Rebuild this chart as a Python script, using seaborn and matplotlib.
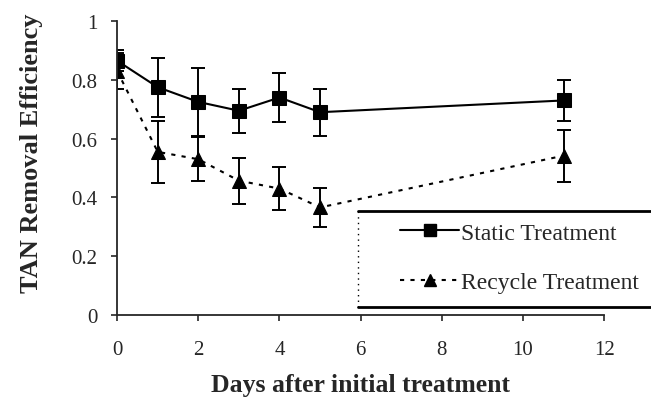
import matplotlib
matplotlib.use("Agg")
import matplotlib.pyplot as plt
import seaborn as sns
import pandas as pd
from matplotlib.lines import Line2D

# data
days = [0, 1, 2, 3, 4, 5, 11]
static_mean = [0.865, 0.775, 0.725, 0.695, 0.74, 0.69, 0.73]
static_err = [0.035, 0.10, 0.115, 0.075, 0.083, 0.08, 0.07]
recycle_mean = [0.83, 0.555, 0.53, 0.457, 0.43, 0.366, 0.542]
recycle_err = [0.06, 0.105, 0.075, 0.078, 0.073, 0.066, 0.088]

sns.set_style("ticks")
plt.rcParams["font.family"] = ["Liberation Serif", "DejaVu Serif"]

df = pd.DataFrame({
    "Day": days * 2,
    "Efficiency": static_mean + recycle_mean,
    "Treatment": ["Static Treatment"] * len(days) + ["Recycle Treatment"] * len(days),
})

fig = plt.figure(figsize=(6.51, 4.02), dpi=100)
ax = fig.add_axes([0.18, 0.214, 0.748, 0.731])

sns.lineplot(data=df, x="Day", y="Efficiency", hue="Treatment", style="Treatment",
             palette=["black", "black"], markers=["s", "^"],
             dashes=[(None, None), (2, 3)], markersize=10, linewidth=1.5,
             markeredgecolor="black", legend=False, ax=ax)

ax.errorbar(days, static_mean, yerr=static_err, fmt="none", ecolor="black",
            elinewidth=1.4, capsize=5, capthick=1.4)
ax.errorbar(days, recycle_mean, yerr=recycle_err, fmt="none", ecolor="black",
            elinewidth=1.4, capsize=5, capthick=1.4)

ax.set_xlim(0, 12)
ax.set_ylim(0, 1)
ax.set_xticks([0, 2, 4, 6, 8, 10, 12])
ax.set_yticks([0, 0.2, 0.4, 0.6, 0.8, 1])
ax.set_yticklabels(["0", "0.2", "0.4", "0.6", "0.8", "1"])
ax.tick_params(labelsize=15, length=4, width=1.2)
ax.tick_params(axis="x", pad=14)
ax.tick_params(axis="y", pad=10)
for s in ["left", "bottom"]:
    ax.spines[s].set_linewidth(1.3)
sns.despine(ax=ax)

ax.set_xlabel("Days after initial treatment", fontsize=18.5, fontweight="bold", labelpad=10)
ax.set_ylabel("TAN Removal Efficiency", fontsize=19, fontweight="bold")
ax.yaxis.set_label_coords(-0.152, 0.554)

# legend box: thick top/bottom rules, faint dotted left edge, open to the right
x0, x1 = 358 / 651, 1.02
y_top, y_bot = 1 - 212 / 402, 1 - 308 / 402
fig.add_artist(Line2D([x0, x1], [y_top, y_top], color="black", linewidth=2.0))
fig.add_artist(Line2D([x0, x1], [y_bot, y_bot], color="black", linewidth=2.0))
fig.add_artist(Line2D([x0, x0], [y_bot, y_top], color="black", linewidth=1.0,
                      linestyle=(0, (1, 3))))

handles = [
    Line2D([], [], color="black", marker="s", markersize=9, linewidth=1.5),
    Line2D([], [], color="black", marker="^", markersize=9, linewidth=1.5, linestyle=(0, (2, 3))),
]
fig.legend(handles, ["Static Treatment", "Recycle Treatment"],
           loc="upper left", bbox_to_anchor=(400 / 651, 1 - 223 / 402),
           bbox_transform=fig.transFigure, fontsize=17, frameon=False,
           handlelength=2.5, handletextpad=0.1, labelspacing=1.2,
           borderpad=0, borderaxespad=0)

fig.savefig("out.png", dpi=100)
